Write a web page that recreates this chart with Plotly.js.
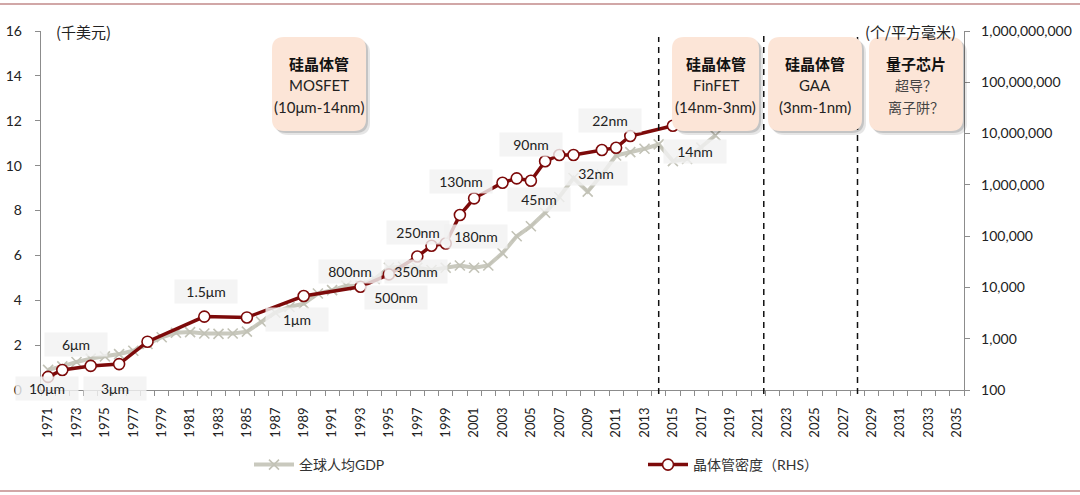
<!DOCTYPE html>
<html><head><meta charset="utf-8">
<script src="https://cdn.plot.ly/plotly-3.0.1.min.js"></script>
<style>html,body{margin:0;padding:0;background:#fff}#chart{width:1080px;height:495px}</style>
</head><body><div id="chart"></div>
<script>
// ---------------- data ----------------
const gdpYears = [1971,1972,1973,1974,1975,1976,1977,1978,1979,1980,1981,1982,1983,1984,1985,1986,1987,1988,1989,1990,1991,1992,1993,1994,1995,1996,1997,1998,1999,2000,2001,2002,2003,2004,2005,2006,2007,2008,2009,2010,2011,2012,2013,2014,2015,2016,2017,2018];
const gdpValues = [0.9,1.05,1.25,1.4,1.5,1.6,1.75,2.05,2.35,2.55,2.58,2.52,2.5,2.52,2.6,3.05,3.45,3.7,3.85,4.3,4.45,4.65,4.65,4.95,5.45,5.5,5.45,5.35,5.45,5.55,5.45,5.55,6.1,6.85,7.3,7.9,8.6,9.45,8.84,9.6,10.45,10.6,10.75,10.95,10.2,10.3,10.8,11.35];
const densityYears = [1971,1972,1974,1976,1978,1982,1985,1989,1993,1995,1997,1998,1999,2000,2001,2003,2004,2005,2006,2007,2008,2010,2011,2012,2015];
const densityValues = [180,245,295,320,875,2700,2600,6800,10300,18000,40000,65000,72000,258000,546000,1100000,1340000,1200000,2880000,3820000,3820000,4780000,5300000,8960000,14200000];
const nodeLabels = ['10μm','6μm','3μm','1.5μm','1μm','800nm','500nm','350nm','250nm','180nm','130nm','90nm','45nm','32nm','22nm','14nm'];
const leftTicks = [0,2,4,6,8,10,12,14,16];
const rightTicks = [100,1000,10000,100000,1000000,10000000,100000000,1000000000];
const xTickFirst = 1971, xTickLast = 2035, xTickStep = 2;
const eraTitles = ['硅晶体管','硅晶体管','硅晶体管','量子芯片'];
const eraLine2 = ['MOSFET','FinFET','GAA','超导？'];
const eraLine3 = ['(10μm-14nm)','(14nm-3nm)','(3nm-1nm)','离子阱？'];
const eraDividers = [2014, 2021.4, 2028];
const gdpName = '全球人均GDP';
const densityName = '晶体管密度（RHS）';
const leftUnit = '(千美元)';
const rightUnit = '(个/平方毫米)';

// ---------------- layout helpers (positions/styles) ----------------
const L = 41, R = 964, T = 31, B = 390, W = 1080, H = 495;
const PX = px => (px - L) / (R - L);
const PY = py => (B - py) / (B - T);
// label positions (x in years, y in left-axis units)
const nodeLabelPos = [[1970.92,0.05],[1972.93,2.05],[1975.68,0.05],[1982.12,4.37],[1988.53,3.16],[1992.26,5.30],[1995.5,4.14],[1996.9,5.26],[1997.05,7.0],[2001.13,6.86],[2000.08,9.31],[2005.04,10.96],[2005.57,8.51],[2009.58,9.67],[2010.57,12.03],[2016.56,10.65]];
const boxPx = [[272,366],[672,759],[768,862],[869,963]];
const boxTop = 37, boxBot = 131;

const latin = 'Lato, "Noto Sans CJK SC", sans-serif';
const cjk = '"Noto Sans CJK SC", sans-serif';

function rr(x0,y0,x1,y1,r){
  const p=(x,y)=>PX(x).toFixed(5)+','+PY(y).toFixed(5);
  return 'M'+p(x0+r,y0)+' L'+p(x1-r,y0)+' Q'+p(x1,y0)+' '+p(x1,y0+r)+
    ' L'+p(x1,y1-r)+' Q'+p(x1,y1)+' '+p(x1-r,y1)+' L'+p(x0+r,y1)+
    ' Q'+p(x0,y1)+' '+p(x0,y1-r)+' L'+p(x0,y0+r)+' Q'+p(x0,y0)+' '+p(x0+r,y0)+' Z';
}

const traces = [
  {x: gdpYears, y: gdpValues, name: gdpName, type:'scatter', mode:'lines+markers',
   line:{color:'#c9c9be', width:4},
   marker:{symbol:'x-thin', size:10, color:'#c9c9be', line:{color:'#c2c2b6', width:1.6}},
   yaxis:'y', legend:'legend'},
  {x: densityYears, y: densityValues, name: densityName, type:'scatter', mode:'lines+markers',
   line:{color:'#7d0a0a', width:3.5},
   marker:{symbol:'circle', size:11, color:'#ffffff', line:{color:'#7d0a0a', width:1.6}},
   yaxis:'y2', legend:'legend2'}
];

const shapes = [];
shapes.push({type:'line', xref:'paper', yref:'paper', x0:PX(0), x1:PX(W), y0:PY(4), y1:PY(4), line:{color:'#c28a8a', width:1.5}});
shapes.push({type:'line', xref:'paper', yref:'paper', x0:PX(0), x1:PX(W), y0:PY(491), y1:PY(491), line:{color:'#c28a8a', width:1.5}});
eraDividers.forEach((d,i)=>{
  shapes.push({type:'line', xref:'x', yref:'paper', x0:d, x1:d, y0:PY(394), y1:PY(i===1?33:37), line:{color:'#111', width:1.5, dash:'6px,5px'}, layer:'above'});
});
boxPx.forEach(b=>{
  shapes.push({type:'path', xref:'paper', yref:'paper', path: rr(b[0]+4,boxTop+4,b[1]+4,boxBot+4,12), fillcolor:'rgba(0,0,0,0.10)', line:{width:0}, layer:'above'});
  shapes.push({type:'path', xref:'paper', yref:'paper', path: rr(b[0]+2,boxTop+2,b[1]+2,boxBot+2,12), fillcolor:'rgba(0,0,0,0.14)', line:{width:0}, layer:'above'});
  shapes.push({type:'path', xref:'paper', yref:'paper', path: rr(b[0],boxTop,b[1],boxBot,12), fillcolor:'#fce5d7', line:{width:0}, layer:'above'});
});

const annotations = [];
nodeLabels.forEach((t,i)=>{
  annotations.push({x:nodeLabelPos[i][0], y:nodeLabelPos[i][1], xref:'x', yref:'y', xanchor:'center', yanchor:'middle', text:t, showarrow:false,
    font:{family:latin, size:14, color:'#222'}, bgcolor:'rgba(242,242,242,0.82)', width:58, height:19, borderpad:2});
});
boxPx.forEach((b,i)=>{
  const cx = PX((b[0]+b[1])/2);
  const common = {xref:'paper', yref:'paper', xanchor:'center', yanchor:'middle', showarrow:false};
  annotations.push(Object.assign({x:cx, y:PY(63), text:'<b>'+eraTitles[i]+'</b>', font:{family:cjk, size:15, color:'#111'}}, common));
  const isCjk = i===3;
  const f = {family:isCjk?cjk:latin, size:isCjk?14:15, color:isCjk?'#444':'#222'};
  annotations.push(Object.assign({x:cx, y:PY(85), text:eraLine2[i], font:f}, common));
  annotations.push(Object.assign({x:cx, y:PY(107), text:eraLine3[i], font:f}, common));
});
annotations.push({x:PX(54), y:PY(31), xref:'paper', yref:'paper', xanchor:'left', yanchor:'middle', text:leftUnit, showarrow:false, font:{family:cjk, size:15, color:'#222'}});
annotations.push({x:PX(958), y:PY(31), xref:'paper', yref:'paper', xanchor:'right', yanchor:'middle', text:rightUnit, showarrow:false, font:{family:cjk, size:15, color:'#222'}});

const legendBase = {orientation:'h', xanchor:'left', yanchor:'middle', font:{family:latin, size:14, color:'#333'}, bgcolor:'rgba(0,0,0,0)', borderwidth:0, itemwidth:40};
const layout = {
  width:W, height:H, margin:{l:L, r:W-R, t:T, b:H-B}, paper_bgcolor:'#fff', plot_bgcolor:'rgba(0,0,0,0)',
  showlegend:true,
  legend:Object.assign({x:PX(249), y:PY(465)}, legendBase),
  legend2:Object.assign({x:PX(643), y:PY(465)}, legendBase),
  xaxis:{type:'linear', range:[1970.5,2035.5], tick0:xTickFirst, dtick:xTickStep, tickmode:'linear',
    ticks:'', tickangle:-90, showgrid:false, zeroline:false, showline:true, linecolor:'#8c8c8c', linewidth:1.3,
    tickfont:{family:latin, size:13, color:'#222'}, ticklabelstandoff:11,
    minor:{tick0:1970.5, dtick:1, ticks:'outside', ticklen:5, tickcolor:'#8c8c8c', tickwidth:1, showgrid:false}},
  yaxis:{range:[0,16], tickmode:'array', tickvals:leftTicks, ticks:'outside', ticklen:5, tickcolor:'#8c8c8c',
    showgrid:false, zeroline:false, showline:true, linecolor:'#8c8c8c', linewidth:1.3,
    tickfont:{family:latin, size:14, color:'#222'}, ticklabelstandoff:10},
  yaxis2:{type:'log', range:[2,9], overlaying:'y', side:'right', tickmode:'array', tickvals:rightTicks,
    ticktext:rightTicks.map(v=>v.toLocaleString('en-US')), ticks:'outside', ticklen:5, tickcolor:'#8c8c8c',
    showgrid:false, zeroline:false, showline:true, linecolor:'#8c8c8c', linewidth:1.3,
    tickfont:{family:latin, size:14, color:'#222'}, ticklabelstandoff:8},
  shapes, annotations
};
Plotly.newPlot('chart', traces, layout, {displayModeBar:false, staticPlot:true});
</script></body></html>
